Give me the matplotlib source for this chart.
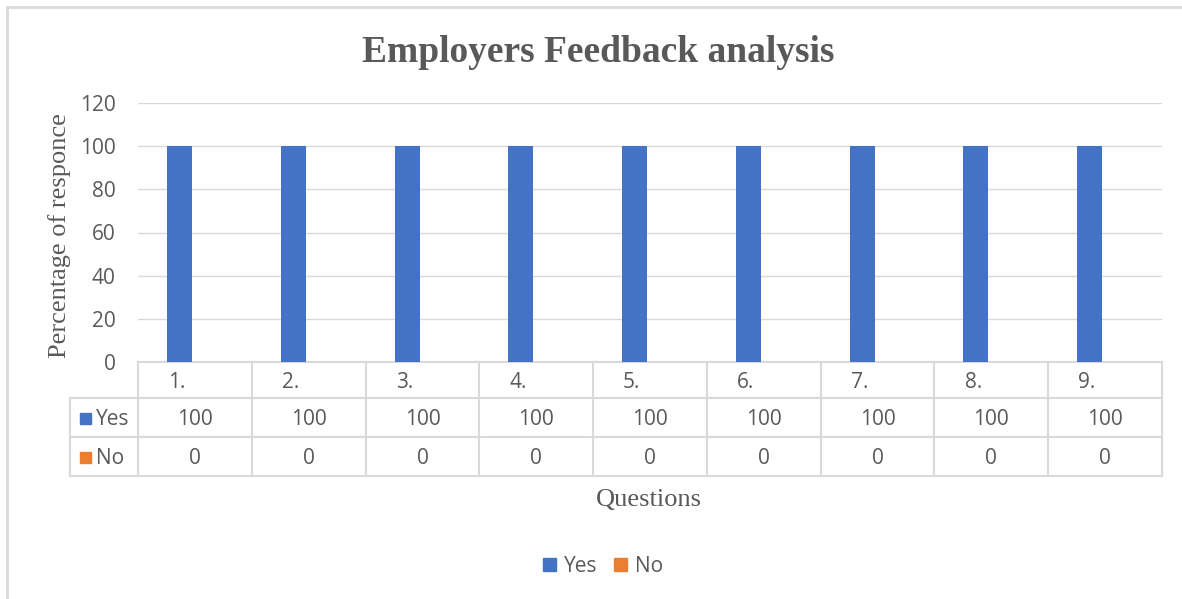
import numpy as np
import matplotlib.pyplot as plt
from matplotlib.lines import Line2D
from matplotlib.patches import Rectangle

questions = ["1.", "2.", "3.", "4.", "5.", "6.", "7.", "8.", "9."]
yes = [100, 100, 100, 100, 100, 100, 100, 100, 100]
no = [0, 0, 0, 0, 0, 0, 0, 0, 0]
yticks = [0, 20, 40, 60, 80, 100, 120]

BLUE = "#4472C4"
ORANGE = "#ED7D31"
GREY = "#595959"
LINE = "#D9D9D9"
sans = ["Open Sans", "DejaVu Sans"]
serif = ["Liberation Serif", "DejaVu Serif"]
FS = 15

W, H = 1182, 599
fig = plt.figure(figsize=(W / 100, H / 100), dpi=100)
ax = fig.add_axes([138 / W, 1 - 362 / H, (1162 - 138) / W, (362 - 103) / H])

x = np.arange(len(questions))
bw = 0.22
off = 0.135
ax.bar(x - off, yes, bw, color=BLUE, zorder=3)
ax.bar(x + off, no, bw, color=ORANGE, zorder=3)

ax.set_xlim(-0.5, len(questions) - 0.5)
ax.set_ylim(0, 120)
ax.set_yticks(yticks)
ax.set_yticklabels([str(t) for t in yticks], family=sans, fontsize=FS, color=GREY)
ax.tick_params(axis="y", length=0, pad=16)
ax.set_xticks([])
ax.grid(axis="y", color=LINE, lw=1, zorder=0)
for s in ax.spines.values():
    s.set_visible(False)

# data table under the axis
tr = ax.get_xaxis_transform()
rows = [0, -0.139, -0.290, -0.440]
left = -1.098
edges = np.arange(len(questions) + 1) - 0.5
kw = dict(transform=tr, clip_on=False, color=LINE, lw=1.5)
ax.plot([-0.5, edges[-1]], [rows[0], rows[0]], **kw)
for r in rows[1:]:
    ax.plot([left, edges[-1]], [r, r], **kw)
for e in edges:
    ax.plot([e, e], [rows[0], rows[-1]], **kw)
ax.plot([left, left], [rows[1], rows[-1]], **kw)

dy = -0.009  # nudge table text down a little
tk = dict(transform=tr, ha="center", va="center", family=sans, fontsize=FS, color=GREY, clip_on=False)
for i, q in enumerate(questions):
    ax.text(i - 0.16, (rows[0] + rows[1]) / 2 + dy, q, **tk)
    ax.text(i, (rows[1] + rows[2]) / 2 + dy, str(yes[i]), **tk)
    ax.text(i, (rows[2] + rows[3]) / 2 + dy, str(no[i]), **tk)

for (r0, r1), name, col in [((rows[1], rows[2]), "Yes", BLUE), ((rows[2], rows[3]), "No", ORANGE)]:
    yc = 1 - 362 / H + (r0 + r1) / 2 * (362 - 103) / H
    fig.patches.append(Rectangle((80 / W, yc - 6 / H), 11 / W, 11 / H,
                                 transform=fig.transFigure, color=col))
    fig.text(96 / W, yc - 2 / H, name, ha="left", va="center", family=sans, fontsize=FS, color=GREY)

fig.text(598 / W, 1 - 52 / H, "Employers Feedback analysis", ha="center", va="center",
         family=serif, fontsize=27, fontweight="bold", color=GREY)
fig.text(60 / W, 1 - 236 / H, "Percentage of responce", ha="center", va="center",
         rotation=90, family=serif, fontsize=19, color=GREY)
fig.text(649 / W, 1 - 500 / H, "Questions", ha="center", va="center",
         family=serif, fontsize=19, color=GREY)

handles = [Rectangle((0, 0), 1, 1, color=BLUE), Rectangle((0, 0), 1, 1, color=ORANGE)]
fig.legend(handles, ["Yes", "No"], loc="center", bbox_to_anchor=(603 / W, 1 - 566 / H),
           ncol=2, frameon=False, handlelength=0.6, handleheight=0.6, handletextpad=0.4,
           columnspacing=0.8, prop={"family": sans, "size": FS}, labelcolor=GREY)

# chart frame (top and left edges visible)
fig.add_artist(Line2D([7 / W, 1], [1 - 7 / H, 1 - 7 / H], transform=fig.transFigure, color=LINE, lw=2))
fig.add_artist(Line2D([7 / W, 7 / W], [0, 1 - 7 / H], transform=fig.transFigure, color=LINE, lw=2))

fig.savefig("out.png", dpi=100, facecolor="white")
